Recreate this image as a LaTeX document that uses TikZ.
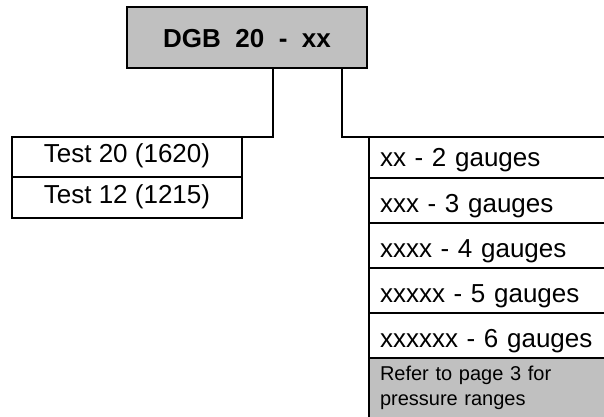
\documentclass[tikz,border=0pt]{standalone}
\usepackage{fontspec}
\setmainfont{Liberation Sans}
\usetikzlibrary{positioning}
\definecolor{boxgray}{HTML}{C0C0C0}

\begin{document}
\begin{tikzpicture}[x=1pt,y=-1pt,line width=2.2pt,
    cell/.style={draw, inner sep=0pt, outer sep=0pt, font=\fontsize{26}{30}\selectfont},
    testcell/.style={cell, minimum width=230pt, text depth=15pt},
    gaugecell/.style={cell, text width=238pt, align=left, inner xsep=11pt,
        text height=34pt, text depth=11pt}]
    \clip (0,0) rectangle (604,416);
    \node[cell, fill=boxgray, anchor=north west, minimum width=240pt,
        text height=40pt, text depth=21pt,
        font=\bfseries\fontsize{26}{30}\selectfont] (code) at (127,7) {DGB\ \ 20\ \ -\ \ xx};
    \node[testcell, anchor=north west, text height=25pt] (test1) at (12,137) {Test 20 (1620)};
    \node[testcell, below=0pt of test1, text height=26pt] (test2) {Test 12 (1215)};
    \node[gaugecell, anchor=north west, text height=29pt, text depth=12pt] (g1) at (369,137) {xx - 2 gauges};
    \foreach \n/\txt [remember=\n as \prev (initially g1)] in
        {g2/xxx - 3 gauges, g3/xxxx - 4 gauges, g4/xxxxx - 5 gauges, g5/xxxxxx - 6 gauges}{
    \node[gaugecell, below=0pt of \prev] (\n) {\txt};
    }
    \node[gaugecell, fill=boxgray, below=0pt of g5, inner ysep=7pt,
        text height=15pt, text depth=45pt,
        font=\fontsize{20}{25}\selectfont] (note) {Refer to page 3 for\\pressure ranges};
    \coordinate (c20) at (273,0);
    \coordinate (cxx) at (342,0);
    \draw (code.south -| c20) |- (test1.north east);
    \draw (code.south -| cxx) |- (g1.north west);
\end{tikzpicture}
\end{document}
